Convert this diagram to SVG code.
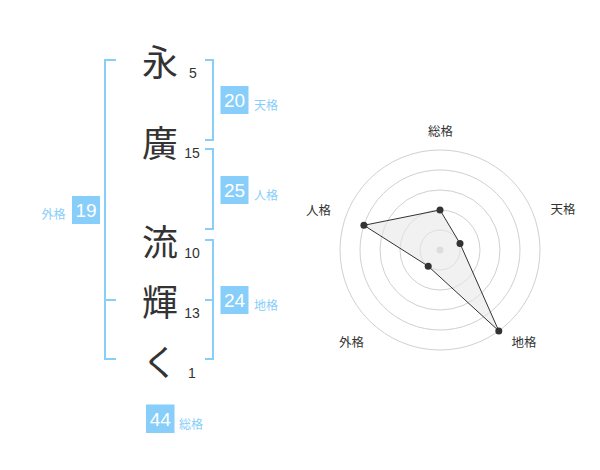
<svg xmlns="http://www.w3.org/2000/svg" width="600" height="470" viewBox="0 0 600 470">
<style>
.br{fill:none;stroke:#87cefa;stroke-width:2}
.ch{font-family:"Noto Sans CJK JP","Noto Sans",sans-serif;font-size:36px;fill:#333;text-anchor:middle;dominant-baseline:central}
.st{font-family:"Liberation Sans",Arial,sans-serif;font-size:14px;fill:#333;text-anchor:middle;dominant-baseline:central}
.bx{fill:#87cefa}
.bn{font-family:"Liberation Sans",Arial,sans-serif;font-size:19px;fill:#fff;text-anchor:middle;dominant-baseline:central}
.bl{font-family:"Noto Sans CJK JP",sans-serif;font-size:12px;fill:#87cefa;dominant-baseline:central}
.rl{font-family:"Noto Sans CJK JP",sans-serif;font-size:12.5px;fill:#333;text-anchor:middle;dominant-baseline:central}
.ring{fill:none;stroke:#d0d0d0;stroke-width:1}
.dot{fill:#333}
</style>
<rect width="600" height="470" fill="#fff"/>
<g id="connectors">
<path class="br" d="M116,60 H105 V359 H116 M105,300 H116"/>
<path class="br" d="M205,60 H213 V140 H205"/>
<path class="br" d="M205,149 H213 V229 H205"/>
<path class="br" d="M205,240 H213 V359 H205 M205,300 H213"/>
</g>
<g id="char-1"><text class="ch" x="160" y="60">永</text><text class="st" x="193" y="73">5</text></g>
<g id="char-2"><text class="ch" x="160" y="141">廣</text><text class="st" x="192" y="153">15</text></g>
<g id="char-3"><text class="ch" x="160" y="240">流</text><text class="st" x="192" y="253">10</text></g>
<g id="char-4"><text class="ch" x="160" y="300">輝</text><text class="st" x="192" y="313">13</text></g>
<g id="char-5"><text class="ch" x="160" y="360">く</text><text class="st" x="192" y="373">1</text></g>
<g id="tenkaku"><rect class="bx" x="220.5" y="86" width="28" height="28"/><text class="bn" x="234.5" y="100.5">20</text><text class="bl" x="254" y="104">天格</text></g>
<g id="jinkaku"><rect class="bx" x="220.5" y="176" width="28" height="28"/><text class="bn" x="234.5" y="190.5">25</text><text class="bl" x="254" y="194">人格</text></g>
<g id="chikaku"><rect class="bx" x="220.5" y="286" width="28" height="28"/><text class="bn" x="234.5" y="300.5">24</text><text class="bl" x="254" y="304">地格</text></g>
<g id="gaikaku"><rect class="bx" x="72" y="196" width="28" height="28"/><text class="bn" x="86" y="210.5">19</text><text class="bl" x="41.5" y="213">外格</text></g>
<g id="soukaku"><rect class="bx" x="146" y="404.5" width="28.5" height="28.5"/><text class="bn" x="160.2" y="419">44</text><text class="bl" x="179" y="423">総格</text></g>
<g id="radar">
<circle class="ring" cx="440" cy="250" r="20"/>
<circle class="ring" cx="440" cy="250" r="40"/>
<circle class="ring" cx="440" cy="250" r="60"/>
<circle class="ring" cx="440" cy="250" r="80"/>
<circle class="ring" cx="440" cy="250" r="100"/>
<circle cx="440" cy="250" r="3.5" fill="#ccc"/>
<polygon points="440,210 460,243.5 498.8,330.9 428.2,266.2 363.9,225.3" fill="#e8e8e8" fill-opacity="0.6" stroke="#333" stroke-width="1"/>
<circle class="dot" cx="440" cy="210" r="3.5"/>
<circle class="dot" cx="460" cy="243.5" r="3.5"/>
<circle class="dot" cx="498.8" cy="330.9" r="3.5"/>
<circle class="dot" cx="428.2" cy="266.2" r="3.5"/>
<circle class="dot" cx="363.9" cy="225.3" r="3.5"/>
<text class="rl" x="440.5" y="130">総格</text>
<text class="rl" x="563" y="208">天格</text>
<text class="rl" x="524" y="341">地格</text>
<text class="rl" x="351.5" y="341">外格</text>
<text class="rl" x="318.5" y="209">人格</text>
</g>
</svg>
